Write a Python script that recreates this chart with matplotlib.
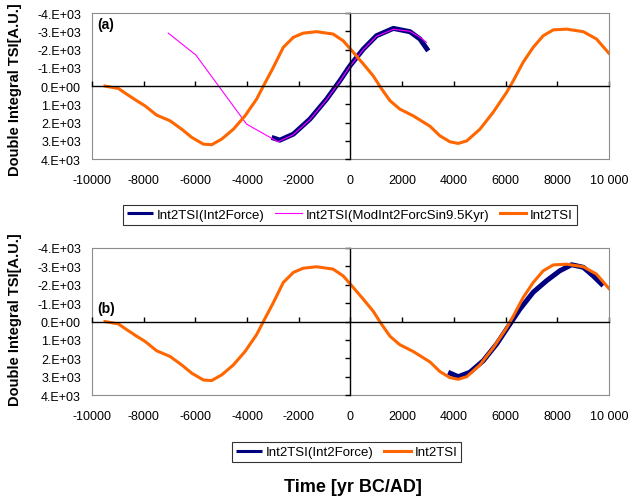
import matplotlib
matplotlib.use("Agg")
import matplotlib.pyplot as plt
from matplotlib.ticker import FixedLocator, FuncFormatter

plt.rcParams['font.family'] = ['Liberation Sans', 'DejaVu Sans']

# Int2TSI - double integral of TSI (same curve in both panels)
tsi_years = [-9500, -8980, -8660, -8270, -7950, -7500, -6980, -6530, -6140, -5690,
             -5370, -4980, -4530, -4080, -3630, -3370, -2990, -2600, -2210, -1830,
             -1310, -670, -280, 110, 500, 880, 1210, 1530, 1910, 2430,
             3080, 3460, 3850, 4170, 4500, 5010, 5520, 6040, 6300, 6680,
             7070, 7460, 7850, 8360, 9010, 9520, 10000]
tsi_values = [0, 130, 440, 800, 1080, 1590, 1900, 2360, 2810, 3180,
              3210, 2900, 2360, 1630, 710, 0, -1010, -2120, -2670, -2900,
              -2980, -2850, -2480, -1850, -1210, -560, 160, 800, 1260, 1630,
              2200, 2720, 3050, 3140, 3000, 2360, 1440, 350, -290, -1300,
              -2120, -2760, -3080, -3120, -2980, -2580, -1800]

# Int2TSI(Int2Force), panel (a)
force_years_a = [-3050, -2730, -2210, -1570, -920, -410, -20, 500, 1010, 1660,
                 2300, 2690, 3010]
force_values_a = [2810, 2960, 2630, 1810, 710, -290, -1110, -2030, -2760, -3160,
                  -2980, -2580, -1930]

# Int2TSI(ModInt2ForcSin9.5Kyr), panel (a)
mod_years = [-7050, -5980, -4020, -3110, -2800, -2210, -1570, -920, -410, -20,
             500, 1010, 1660, 2300, 2690, 2950]
mod_values = [-2900, -1700, 2080, 2810, 3050, 2660, 1840, 740, -260, -1080,
              -2000, -2730, -3110, -3000, -2680, -2390]

# Int2TSI(Int2Force) shifted forward, panel (b)
force_years_b = [3780, 4170, 4620, 5140, 5660, 6170, 6560, 7070, 7590, 8100,
                 8560, 9010, 9390, 9780]
force_values_b = [2760, 3000, 2760, 2130, 1220, 140, -680, -1590, -2220, -2760,
                  -3090, -2950, -2490, -1950]

XTICKS = [-10000, -8000, -6000, -4000, -2000, 0, 2000, 4000, 6000, 8000, 10000]
XTICK_LABELS = ['-10000', '-8000', '-6000', '-4000', '-2000', '0',
                '2000', '4000', '6000', '8000', '10 000']
YTICKS = [-4000, -3000, -2000, -1000, 0, 1000, 2000, 3000, 4000]

NAVY = '#000080'
MAGENTA = '#FF00FF'
ORANGE = '#FF6600'
FRAME = '#8c8c8c'


def sci_label(v, pos=None):
    if v == 0:
        return '0.E+00'
    return f'{int(round(v / 1000))}.E+03'


def style_panel(ax, xpad, ypad):
    ax.set_xlim(-10000, 10000)
    ax.set_ylim(4000, -4000)

    # Axis lines cross at the origin, ticks on them but no labels
    ax.spines['bottom'].set_position(('data', 0))
    ax.spines['left'].set_position(('data', 0))
    for side in ('bottom', 'left'):
        ax.spines[side].set_color('black')
        ax.spines[side].set_linewidth(1.0)
    for side in ('top', 'right'):
        ax.spines[side].set_color(FRAME)
        ax.spines[side].set_linewidth(0.8)
    ax.xaxis.set_major_locator(FixedLocator(XTICKS))
    ax.yaxis.set_major_locator(FixedLocator(YTICKS))
    ax.tick_params(axis='x', direction='in', length=3.5, width=1.0,
                   labelbottom=False)
    ax.tick_params(axis='y', direction='out', length=3.5, width=1.0,
                   labelleft=False)

    # Labels sit on the outer frame
    sx = ax.secondary_xaxis('bottom')
    sx.set_xticks(XTICKS)
    sx.set_xticklabels(XTICK_LABELS)
    sx.tick_params(length=0, pad=xpad, labelsize=9)
    sx.spines['bottom'].set_color(FRAME)
    sx.spines['bottom'].set_linewidth(0.8)

    sy = ax.secondary_yaxis('left')
    sy.set_yticks(YTICKS)
    sy.yaxis.set_major_formatter(FuncFormatter(sci_label))
    sy.tick_params(length=0, pad=ypad, labelsize=9)
    sy.spines['left'].set_color(FRAME)
    sy.spines['left'].set_linewidth(0.8)


fig = plt.figure(figsize=(6.29, 5.02), dpi=100)
ax_a = fig.add_axes([0.1463, 0.681, 0.8217, 0.291])
ax_b = fig.add_axes([0.1463, 0.211, 0.8217, 0.293])

# Panel (a)
ax_a.plot(force_years_a, force_values_a, color=NAVY, lw=3.6,
          solid_capstyle='butt', label='Int2TSI(Int2Force)')
ax_a.plot(mod_years, mod_values, color=MAGENTA, lw=0.8,
          label='Int2TSI(ModInt2ForcSin9.5Kyr)')
ax_a.plot(tsi_years, tsi_values, color=ORANGE, lw=2.2, label='Int2TSI')
style_panel(ax_a, xpad=11, ypad=8)
ax_a.text(0.01, 0.925, '(a)', transform=ax_a.transAxes, fontsize=10,
          fontweight='bold', va='center', ha='left')

# Panel (b)
ax_b.plot(force_years_b, force_values_b, color=NAVY, lw=3.6,
          solid_capstyle='butt', label='Int2TSI(Int2Force)')
ax_b.plot(tsi_years, tsi_values, color=ORANGE, lw=2.2, label='Int2TSI')
style_panel(ax_b, xpad=11, ypad=8)
ax_b.text(0.01, 0.59, '(b)', transform=ax_b.transAxes, fontsize=10,
          fontweight='bold', va='center', ha='left')

leg_kw = dict(frameon=True, fancybox=False, edgecolor='black', fontsize=9.5,
              handlelength=2.0, handletextpad=0.3, columnspacing=0.8,
              borderpad=0.3, borderaxespad=0)
leg_a = fig.legend(*ax_a.get_legend_handles_labels(), loc='center', ncol=3,
                   bbox_to_anchor=(0.556, 0.570), **leg_kw)
leg_b = fig.legend(*ax_b.get_legend_handles_labels(), loc='center', ncol=2,
                   bbox_to_anchor=(0.551, 0.0976), **leg_kw)
for leg in (leg_a, leg_b):
    leg.get_frame().set_linewidth(0.8)
    for line in leg.get_lines():
        if line.get_color() == NAVY:
            line.set_linewidth(2.2)

fig.text(0.024, 0.821, 'Double Integral TSI[A.U.]', rotation=90, fontsize=10.5,
         fontweight='bold', ha='center', va='center')
fig.text(0.024, 0.363, 'Double Integral TSI[A.U.]', rotation=90, fontsize=10.5,
         fontweight='bold', ha='center', va='center')
fig.text(0.561, 0.028, 'Time [yr BC/AD]', fontsize=13, fontweight='bold',
         ha='center', va='center')

fig.savefig('out.png', dpi=100)
